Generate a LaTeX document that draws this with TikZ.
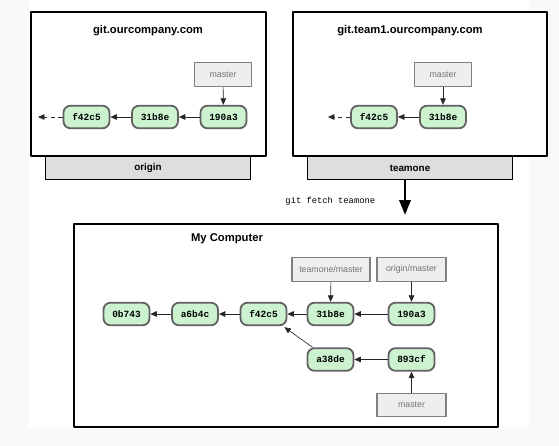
\documentclass[tikz,border=0pt]{standalone}
\usepackage{fontspec}
\setmainfont{Liberation Sans}
\newfontfamily\hashfont{Liberation Mono}
\usetikzlibrary{arrows.meta}
\definecolor{commitgreen}{RGB}{204,242,208}
\definecolor{commitedge}{RGB}{98,98,98}
\definecolor{labelfill}{RGB}{238,238,238}
\definecolor{labeledge}{RGB}{128,128,128}
\definecolor{tabfill}{RGB}{222,222,222}
\definecolor{pagegray}{RGB}{249,249,247}

\begin{document}
\begin{tikzpicture}[x=0.5mm,y=-0.5mm,line join=round,
  commit/.style={draw=commitedge,fill=commitgreen,line width=2.6pt,rounded corners=3.5mm,
    minimum width=23mm,minimum height=11.3mm,inner sep=0pt,font=\hashfont\bfseries\fontsize{13.5}{13.5}\selectfont},
  reflabel/.style={draw=labeledge,fill=labelfill,line width=1.6pt,minimum height=11.8mm,inner sep=0pt,
    text=black!55,font=\fontsize{12.5}{12.5}\selectfont},
  serverbox/.style={draw=black,fill=white,line width=1.6pt},
  tab/.style={draw=black,fill=tabfill,line width=1.6pt,minimum width=102.5mm,minimum height=11.5mm,
    inner sep=0pt,font=\bfseries\fontsize{14}{14}\selectfont},
  title/.style={font=\bfseries\fontsize{16}{16}\selectfont},
  parent/.style={-{Triangle[length=3.2mm,width=2.8mm]},line width=0.9pt,black!85},
  history/.style={parent,dash pattern=on 2.2mm off 1.6mm},
  pointer/.style={parent}]
\useasboundingbox (0,0) rectangle (559,446);
\fill[pagegray] (0,0) rectangle (559,446);
\fill[white] (29,0) rectangle (529,428);
% origin server
\node[tab] (originTab) at (148,168) {origin};
\draw[serverbox] (31,12) rectangle (266,156);
\node[title] (originTitle) at (148,31) {git.ourcompany.com};
\node[reflabel,minimum width=28.5mm] (originMaster) at (223,74.5) {master};
\node[commit] (oF) at (86.5,117) {f42c5};
\node[commit] (oB) at (155,117) {31b8e};
\node[commit] (oA) at (223.5,117) {190a3};
\coordinate (oEnd) at (38,117);
\draw[pointer] (originMaster) -- (oA);
\draw[parent] (oA) -- (oB);
\draw[parent] (oB) -- (oF);
\draw[history] (oF) -- (oEnd);
% teamone server
\node[tab] (teamoneTab) at (410,168) {teamone};
\draw[serverbox] (293,12) rectangle (547,156);
\node[title] (teamoneTitle) at (410,31) {git.team1.ourcompany.com};
\node[reflabel,minimum width=28.5mm] (teamoneMaster) at (443,74.5) {master};
\node[commit] (tF) at (374,117) {f42c5};
\node[commit] (tB) at (443,117) {31b8e};
\coordinate (tEnd) at (328,117);
\draw[pointer] (teamoneMaster) -- (tB);
\draw[parent] (tB) -- (tF);
\draw[history] (tF) -- (tEnd);
% fetch
\node[anchor=west,font=\hashfont\fontsize{12.5}{12.5}\selectfont] (fetchCmd) at (283,201) {git fetch teamone};
\coordinate (fetchEnd) at (405,215);
\draw[-{Triangle[length=7.5mm,width=5.6mm]},line width=4pt] (teamoneTab.south -| fetchEnd) -- (fetchEnd);
% local repository
\draw[serverbox] (74,224) rectangle (498,427);
\node[title] (localTitle) at (227,239) {My Computer};
\node[reflabel,minimum width=39mm] (lTeamone) at (331,269.5) {teamone/master};
\node[reflabel,minimum width=34.5mm] (lOrigin) at (411.5,269.5) {origin/master};
\node[reflabel,minimum width=34.5mm] (lMaster) at (411.5,405) {master};
\node[commit] (l0) at (126.5,314) {0b743};
\node[commit] (l1) at (195,314) {a6b4c};
\node[commit] (l2) at (263.5,314) {f42c5};
\node[commit] (l3) at (330.5,314) {31b8e};
\node[commit] (l4) at (411.5,314) {190a3};
\node[commit] (l5) at (330.5,359.5) {a38de};
\node[commit] (l6) at (411.5,359.5) {893cf};
\draw[pointer] (lTeamone) -- (l3);
\draw[pointer] (lOrigin) -- (l4);
\draw[pointer] (lMaster) -- (l6);
\draw[parent] (l4) -- (l3);
\draw[parent] (l3) -- (l2);
\draw[parent] (l2) -- (l1);
\draw[parent] (l1) -- (l0);
\draw[parent] (l6) -- (l5);
\draw[parent] ([xshift=3mm]l5.north west) -- ([xshift=-1.5mm,yshift=-0.5mm]l2.south east);
\end{tikzpicture}
\end{document}
